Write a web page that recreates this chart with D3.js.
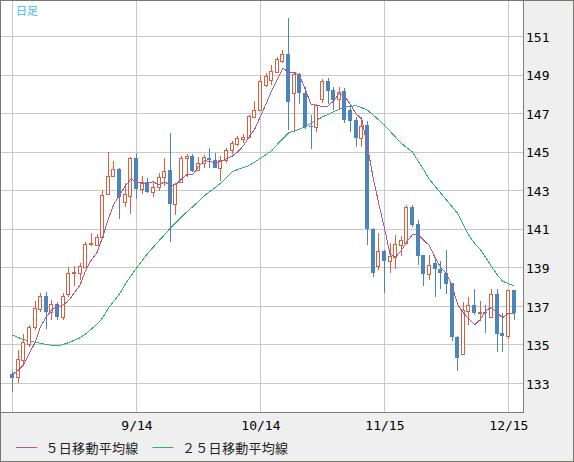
<!DOCTYPE html>
<head>
    <meta charset="utf-8">
    <title>日足チャート</title>
    <style>
        body { margin: 0; }
        svg { display: block; }
        .axis text {
            font-family: "DejaVu Sans Mono", monospace;
            font-size: 13px;
            fill: #000;
        }
        text.jp {
            font-family: "Noto Sans CJK JP", sans-serif;
        }
    </style>
    <script type="text/javascript" src="https://cdn.jsdelivr.net/npm/d3@7/dist/d3.min.js"></script>
</head>
<body>
    <script>
        // trading days, 2022/8/15 - 12/16
        var dates = ["8/15","8/16","8/17","8/18","8/19","8/22","8/23","8/24","8/25","8/26",
            "8/29","8/30","8/31","9/1","9/2","9/5","9/6","9/7","9/8","9/9",
            "9/12","9/13","9/14","9/15","9/16","9/19","9/20","9/21","9/22","9/23",
            "9/26","9/27","9/28","9/29","9/30","10/3","10/4","10/5","10/6","10/7",
            "10/10","10/11","10/12","10/13","10/14","10/17","10/18","10/19","10/20","10/21",
            "10/24","10/25","10/26","10/27","10/28","10/31","11/1","11/2","11/3","11/4",
            "11/7","11/8","11/9","11/10","11/11","11/14","11/15","11/16","11/17","11/18",
            "11/21","11/22","11/23","11/24","11/25","11/28","11/29","11/30","12/1","12/2",
            "12/5","12/6","12/7","12/8","12/9","12/12","12/13","12/14","12/15","12/16"];

        var open = [133.47,133.30,134.20,135.02,135.89,136.82,137.51,136.70,137.08,136.44,
            137.62,138.69,138.72,139.03,140.21,140.16,140.59,142.79,143.74,144.10,
            142.37,142.72,144.66,143.06,143.44,142.89,143.18,143.70,144.05,142.29,
            143.44,144.66,144.78,144.05,144.43,144.66,144.57,144.17,144.57,145.09,
            145.38,145.68,145.75,146.78,147.16,148.46,148.72,149.15,149.72,150.07,
            148.03,149.03,148.03,146.35,146.26,147.72,148.68,148.20,147.72,148.15,
            147.16,146.64,145.69,146.38,141.00,139.09,139.86,139.34,139.55,140.16,
            140.25,142.11,141.24,139.63,138.64,139.21,138.90,138.72,138.17,135.40,
            134.49,136.75,137.05,136.65,136.70,136.44,137.62,135.58,135.46,137.83];

        var high = [133.64,134.71,135.54,136.00,137.25,137.65,137.74,137.31,137.22,137.65,
            139.00,139.07,139.21,140.33,140.77,140.73,143.01,144.97,144.53,144.15,
            143.36,144.70,144.95,143.75,143.65,143.44,143.91,144.66,145.95,143.35,
            144.78,144.88,144.88,144.74,144.83,145.18,144.95,144.78,145.18,145.57,
            145.83,145.92,146.90,147.63,148.93,149.10,149.50,149.93,150.27,151.92,
            149.15,149.10,148.37,146.90,147.46,148.75,148.81,148.34,148.34,148.29,
            147.42,146.81,146.78,146.61,141.02,140.77,139.90,140.28,140.68,140.63,
            142.23,142.23,141.46,139.65,139.64,139.55,139.35,139.88,138.20,135.42,
            137.22,137.48,137.86,137.25,137.05,137.86,137.86,136.65,137.85,137.85];

        var low = [132.55,132.99,133.94,134.89,135.75,136.70,135.82,136.27,136.27,136.27,
            137.48,138.03,138.34,138.95,140.11,140.11,140.47,142.75,143.70,141.49,
            142.15,141.75,142.53,142.79,142.87,142.67,142.98,143.22,140.33,141.72,
            143.39,143.70,143.96,144.01,144.17,144.14,144.14,143.49,144.40,144.86,
            145.29,145.43,145.71,146.73,147.13,148.34,148.46,149.07,149.58,146.12,
            146.04,147.47,146.18,145.12,146.04,147.51,147.47,147.16,147.16,146.47,
            146.04,145.26,145.26,140.16,138.52,138.86,137.69,138.72,138.90,139.59,
            140.21,141.08,139.12,138.05,138.34,137.46,137.90,137.64,135.20,133.64,
            134.45,136.01,136.53,136.23,135.58,136.41,134.63,134.63,135.27,136.27];

        var close = [133.28,134.25,135.13,135.89,136.88,137.51,136.70,137.08,136.44,137.51,
            138.69,138.75,139.07,140.21,140.25,140.56,142.75,143.74,144.10,142.63,
            142.79,144.66,143.06,143.44,142.92,143.18,143.70,144.01,142.29,143.31,
            144.66,144.78,144.01,144.43,144.74,144.57,144.17,144.57,145.09,145.43,
            145.73,145.75,146.85,147.16,148.68,148.94,149.18,149.79,150.07,147.59,
            149.03,148.03,146.30,146.27,147.42,148.68,148.16,147.68,148.11,146.64,
            146.61,145.69,146.33,140.97,138.72,139.86,139.34,139.59,140.20,140.42,
            142.11,141.20,139.60,138.64,139.11,138.90,138.69,138.12,135.37,134.28,
            136.79,137.05,136.62,136.70,136.62,137.62,135.54,135.46,137.83,136.62];

        var ma5 = [133.45,133.65,133.95,134.55,135.09,135.93,136.42,136.81,136.92,137.05,
            137.28,137.69,138.09,138.85,139.39,139.77,140.57,141.50,142.28,142.76,
            143.20,143.58,143.45,143.32,143.37,143.45,143.26,143.45,143.22,143.30,
            143.59,143.81,143.81,144.24,144.52,144.51,144.38,144.50,144.63,144.77,
            145.00,145.31,145.77,146.18,146.83,147.48,148.16,148.75,149.33,149.11,
            149.13,148.90,148.20,147.44,147.41,147.34,147.37,147.64,148.01,147.85,
            147.44,146.95,146.68,145.25,143.66,142.31,141.04,139.70,139.54,139.88,
            140.33,140.70,140.71,140.39,140.13,139.49,138.99,138.69,138.04,137.07,
            136.65,136.32,136.02,136.29,136.76,136.92,136.62,136.39,136.61,136.61];

        var ma25 = [135.49,135.36,135.25,135.18,135.12,135.06,135.00,134.95,134.92,135.00,
            135.10,135.22,135.35,135.55,135.80,136.05,136.38,136.88,137.25,137.62,
            138.12,138.55,138.95,139.35,139.72,140.05,140.38,140.70,141.03,141.32,
            141.62,141.89,142.15,142.42,142.70,142.93,143.15,143.38,143.65,143.96,
            144.08,144.18,144.28,144.46,144.66,144.85,145.05,145.38,145.69,145.97,
            146.08,146.18,146.30,146.48,146.65,146.80,146.93,147.07,147.20,147.33,
            147.36,147.38,147.28,147.15,146.90,146.64,146.38,146.06,145.74,145.43,
            145.20,144.98,144.50,144.05,143.55,143.20,142.85,142.50,142.15,141.80,
            141.20,140.65,140.25,139.94,139.50,139.05,138.62,138.28,138.15,138.05];

        var yTicks = [133, 135, 137, 139, 141, 143, 145, 147, 149, 151];
        var gridDates = ["8/15", "9/14", "10/14", "11/15", "12/15"];
        var labelDates = ["9/14", "10/14", "11/15", "12/15"];
        var legendNames = ["５日移動平均線", "２５日移動平均線"];

        var W = 574, H = 462,
            plotR = 523, plotB = 412;

        var upColor = "#d9603f", downColor = "#4a86bb",
            ma5Color = "#b3588c", ma25Color = "#2fb377";

        var x = d3.scalePoint()
            .domain(dates)
            .range([12.5, 514]);

        var y = d3.scaleLinear()
            .domain([133, 151])
            .range([383, 36]);

        var svg = d3.select("body")
            .append("svg")
            .attr("width", W)
            .attr("height", H);

        // panels
        svg.append("rect")
            .attr("width", W).attr("height", H)
            .attr("fill", "#efefef");

        svg.append("rect")
            .attr("x", 1).attr("y", 1)
            .attr("width", plotR - 1).attr("height", plotB - 1)
            .attr("fill", "#fff");

        var plot = svg.append("g").attr("id", "plot");

        // grid
        plot.selectAll("line.hgrid")
            .data(yTicks)
            .enter()
            .append("line")
            .attr("class", "hgrid")
            .attr("x1", 1).attr("x2", plotR)
            .attr("y1", d => Math.round(y(d)) + 0.5)
            .attr("y2", d => Math.round(y(d)) + 0.5)
            .attr("stroke", "#c9c9c9");

        plot.selectAll("line.vgrid")
            .data(gridDates)
            .enter()
            .append("line")
            .attr("class", "vgrid")
            .attr("x1", d => Math.floor(x(d)) + 0.5)
            .attr("x2", d => Math.floor(x(d)) + 0.5)
            .attr("y1", 1).attr("y2", plotB)
            .attr("stroke", "#c9c9c9");

        // moving averages
        var line = d3.line()
            .x((d, i) => x(dates[i]))
            .y(d => y(d));

        plot.append("path")
            .datum(ma25)
            .attr("d", line)
            .attr("fill", "none")
            .attr("stroke", ma25Color)
            .attr("stroke-width", 1)
            .style("shape-rendering", "crispEdges");

        // candles
        var candles = dates.map(function (d, i) {
            return { date: d, o: open[i], h: high[i], l: low[i], c: close[i] };
        });

        var cg = plot.selectAll("g.candle")
            .data(candles)
            .enter()
            .append("g")
            .attr("class", "candle");

        cg.append("line")
            .attr("x1", d => Math.floor(x(d.date)) + 0.5)
            .attr("x2", d => Math.floor(x(d.date)) + 0.5)
            .attr("y1", d => Math.round(y(d.h)))
            .attr("y2", d => Math.round(y(d.l)))
            .attr("stroke", d => d.c >= d.o ? upColor : downColor);

        cg.append("rect")
            .attr("x", function (d) {
                var cx = Math.floor(x(d.date));
                return d.c >= d.o ? cx - 1.5 : cx - 2;
            })
            .attr("width", d => d.c >= d.o ? 3 : 4)
            .attr("y", function (d) {
                var t = Math.round(y(Math.max(d.o, d.c)));
                return d.c >= d.o ? t + 0.5 : t;
            })
            .attr("height", function (d) {
                var h = Math.round(y(Math.min(d.o, d.c))) - Math.round(y(Math.max(d.o, d.c)));
                return Math.max(h, 1);
            })
            .attr("fill", d => d.c >= d.o ? "#fff" : downColor)
            .attr("stroke", d => d.c >= d.o ? upColor : "none")
            .attr("stroke-width", 1);

        plot.append("path")
            .datum(ma5)
            .attr("d", line)
            .attr("fill", "none")
            .attr("stroke", ma5Color)
            .attr("stroke-width", 1)
            .style("shape-rendering", "crispEdges");

        // frame
        svg.append("line")
            .attr("x1", plotR + 0.5).attr("x2", plotR + 0.5)
            .attr("y1", 0).attr("y2", plotB + 1)
            .attr("stroke", "#7d7d7d");
        svg.append("line")
            .attr("x1", 0).attr("x2", plotR)
            .attr("y1", plotB + 0.5).attr("y2", plotB + 0.5)
            .attr("stroke", "#7d7d7d");
        svg.append("rect")
            .attr("x", 0.5).attr("y", 0.5)
            .attr("width", W - 1).attr("height", H - 1)
            .attr("fill", "none")
            .attr("stroke", "#777770");

        // axes
        svg.append("g")
            .attr("class", "axis")
            .attr("transform", "translate(" + plotR + ",0)")
            .call(d3.axisRight(y).tickValues(yTicks).tickSize(0).tickPadding(3).tickFormat(d3.format("d")))
            .call(g => g.select(".domain").remove())
            .call(g => g.selectAll("text").attr("dy", "0.4em"));

        svg.append("g")
            .attr("class", "axis")
            .attr("transform", "translate(0," + plotB + ")")
            .call(d3.axisBottom(x).tickValues(labelDates).tickSize(0).tickPadding(9))
            .call(g => g.select(".domain").remove());

        svg.append("text")
            .attr("class", "jp")
            .attr("x", 16).attr("y", 15)
            .style("font-size", "11px")
            .attr("fill", "#3cbaea")
            .text("日足");

        // legend
        var legend = svg.append("g").attr("id", "legend");
        var legendX = [16, 152.5];
        var legendColors = [ma5Color, ma25Color];

        legend.selectAll("line")
            .data(legendNames)
            .enter()
            .append("line")
            .attr("x1", (d, i) => legendX[i])
            .attr("x2", (d, i) => legendX[i] + 21)
            .attr("y1", 447.5).attr("y2", 447.5)
            .attr("stroke", (d, i) => legendColors[i]);

        legend.selectAll("text")
            .data(legendNames)
            .enter()
            .append("text")
            .attr("class", "jp")
            .attr("x", (d, i) => legendX[i] + 29.5)
            .attr("y", 452.5)
            .style("font-size", "13px")
            .style("letter-spacing", "0.3px")
            .attr("fill", "#222")
            .text(d => d);
    </script>
</body>
